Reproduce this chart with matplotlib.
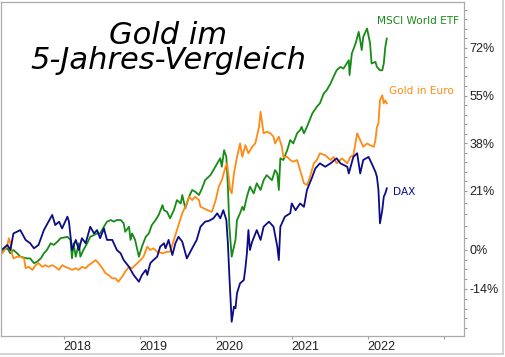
import matplotlib.pyplot as plt
from matplotlib.lines import Line2D

dax_t = [2017.17, 2017.21, 2017.26, 2017.30, 2017.34, 2017.43, 2017.50, 2017.56, 2017.61, 2017.67,
         2017.74, 2017.85, 2017.89, 2017.94, 2017.98, 2018.05, 2018.07, 2018.11, 2018.16, 2018.20,
         2018.24, 2018.29, 2018.35, 2018.40, 2018.44, 2018.48, 2018.53, 2018.57, 2018.64, 2018.70,
         2018.75, 2018.79, 2018.86, 2018.92, 2018.99, 2019.03, 2019.08, 2019.10, 2019.14, 2019.18,
         2019.23, 2019.27, 2019.32, 2019.34, 2019.38, 2019.43, 2019.47, 2019.51, 2019.56, 2019.62,
         2019.69, 2019.75, 2019.80, 2019.86, 2019.91, 2019.97, 2020.02, 2020.06, 2020.10, 2020.14,
         2020.16, 2020.18, 2020.21, 2020.24, 2020.26, 2020.28, 2020.32, 2020.37, 2020.39, 2020.41,
         2020.43, 2020.45, 2020.48, 2020.54, 2020.59, 2020.63, 2020.70, 2020.76, 2020.81, 2020.83,
         2020.85, 2020.91, 2020.98, 2021.00, 2021.05, 2021.11, 2021.16, 2021.20, 2021.27, 2021.31,
         2021.37, 2021.44, 2021.51, 2021.59, 2021.64, 2021.73, 2021.75, 2021.81, 2021.86, 2021.90,
         2021.94, 2022.01, 2022.05, 2022.10, 2022.12, 2022.14, 2022.16, 2022.19, 2022.21, 2022.23,
         2022.25]
dax = [-0.1, 0.5, 1.7, -0.1, 5.8, 7.0, 3.5, 2.3, 0.5, 1.7,
       7.0, 12.4, 8.8, 10.0, 7.6, 11.8, 10.0, -0.1, 3.5, -0.1,
       4.1, 2.3, 8.2, 5.8, 7.0, 4.1, 7.6, 3.5, 3.5, -0.1,
       -1.3, -3.7, -6.1, -9.0, -11.4, -9.0, -7.2, -9.0, -4.8, -3.7,
       -2.5, 1.1, 2.3, 0.5, 3.5, -1.9, 2.3, 4.6, 2.9, -3.1,
       0.5, 3.5, 8.2, 10.0, 10.3, 11.2, 13.0, 11.2, 14.1, 10.6,
       2.3, -9.6, -25.7, -20.3, -20.9, -15.5, -12.0, -10.8, -6.6, -1.3,
       7.0, -0.1, 2.9, 7.0, 3.5, 8.2, 10.0, 8.2, 1.1, -3.7,
       8.2, 11.8, 13.0, 16.5, 14.1, 16.5, 15.3, 21.3, 26.0, 29.0,
       30.8, 29.6, 30.8, 32.6, 30.8, 29.6, 27.2, 33.1, 34.4, 27.2,
       32.0, 33.1, 30.8, 27.8, 26.0, 21.3, 9.4, 14.1, 18.9, 20.1,
       21.9]

msci_t = [2017.17, 2017.21, 2017.26, 2017.30, 2017.34, 2017.39, 2017.43, 2017.52, 2017.56, 2017.61,
          2017.65, 2017.70, 2017.74, 2017.78, 2017.83, 2017.87, 2017.92, 2017.96, 2018.05, 2018.09,
          2018.11, 2018.13, 2018.16, 2018.20, 2018.22, 2018.26, 2018.31, 2018.35, 2018.44, 2018.48,
          2018.53, 2018.57, 2018.62, 2018.66, 2018.70, 2018.75, 2018.79, 2018.81, 2018.86, 2018.88,
          2018.90, 2018.94, 2018.99, 2019.03, 2019.08, 2019.12, 2019.16, 2019.21, 2019.25, 2019.30,
          2019.32, 2019.36, 2019.40, 2019.45, 2019.49, 2019.54, 2019.56, 2019.60, 2019.65, 2019.69,
          2019.73, 2019.78, 2019.82, 2019.86, 2019.93, 2019.97, 2020.02, 2020.06, 2020.08, 2020.11,
          2020.14, 2020.16, 2020.18, 2020.21, 2020.24, 2020.26, 2020.28, 2020.32, 2020.35, 2020.37,
          2020.41, 2020.45, 2020.50, 2020.54, 2020.59, 2020.63, 2020.67, 2020.74, 2020.78, 2020.81,
          2020.83, 2020.85, 2020.89, 2020.94, 2020.98, 2021.02, 2021.07, 2021.11, 2021.13, 2021.16,
          2021.20, 2021.27, 2021.33, 2021.37, 2021.42, 2021.46, 2021.51, 2021.55, 2021.59, 2021.64,
          2021.68, 2021.75, 2021.76, 2021.79, 2021.84, 2021.88, 2021.90, 2021.92, 2021.94, 2021.99,
          2022.03, 2022.05, 2022.10, 2022.12, 2022.16, 2022.19, 2022.21, 2022.23, 2022.25]
msci = [-1.3, -0.1, 0.5, -1.3, -0.1, -1.3, -2.5, -3.1, -3.1, -4.8,
        -4.3, -3.1, -1.3, -0.1, 2.3, 1.7, 2.9, 4.1, 4.6, 3.5,
        -3.1, 2.3, -2.5, 2.3, -2.5, -0.1, 2.3, 4.6, 5.8, 5.8,
        8.2, 10.0, 10.6, 10.0, 10.6, 10.6, 9.4, 6.4, 8.2, 3.5,
        5.8, 3.5, -2.5, 1.1, 4.6, 5.8, 8.8, 10.6, 12.4, 15.9,
        14.1, 13.5, 11.2, 14.1, 17.7, 16.5, 19.5, 14.8, 18.9, 21.3,
        20.7, 19.5, 21.9, 24.8, 26.6, 28.4, 30.8, 32.6, 29.6, 35.5,
        33.1, 22.5, 8.2, -2.5, 1.1, 3.5, 10.6, 13.0, 15.3, 14.1,
        18.9, 22.5, 20.1, 23.7, 21.3, 24.8, 26.6, 24.8, 28.4, 27.2,
        21.3, 32.6, 32.0, 35.5, 39.1, 37.9, 41.5, 42.7, 43.8, 41.5,
        43.8, 48.6, 51.0, 52.2, 55.7, 56.9, 59.3, 61.7, 64.0, 65.2,
        64.6, 67.6, 62.3, 70.0, 73.6, 77.7, 74.7, 71.2, 75.9, 78.9,
        73.6, 66.4, 67.0, 65.2, 64.0, 64.0, 66.4, 72.3, 75.3]

gold_t = [2017.17, 2017.21, 2017.26, 2017.28, 2017.30, 2017.32, 2017.34, 2017.39, 2017.43, 2017.48,
          2017.50, 2017.54, 2017.59, 2017.63, 2017.67, 2017.72, 2017.76, 2017.80, 2017.85, 2017.89,
          2017.94, 2017.98, 2018.02, 2018.07, 2018.11, 2018.16, 2018.20, 2018.24, 2018.29, 2018.33,
          2018.37, 2018.42, 2018.46, 2018.51, 2018.55, 2018.59, 2018.64, 2018.68, 2018.72, 2018.77,
          2018.81, 2018.86, 2018.90, 2018.92, 2018.97, 2019.01, 2019.05, 2019.10, 2019.14, 2019.18,
          2019.23, 2019.30, 2019.36, 2019.40, 2019.45, 2019.49, 2019.56, 2019.60, 2019.65, 2019.69,
          2019.73, 2019.78, 2019.80, 2019.84, 2019.89, 2019.95, 2020.00, 2020.04, 2020.08, 2020.13,
          2020.15, 2020.17, 2020.19, 2020.21, 2020.24, 2020.28, 2020.32, 2020.35, 2020.39, 2020.43,
          2020.48, 2020.52, 2020.57, 2020.59, 2020.63, 2020.67, 2020.72, 2020.76, 2020.78, 2020.83,
          2020.87, 2020.89, 2020.94, 2020.98, 2021.02, 2021.07, 2021.11, 2021.16, 2021.20, 2021.24,
          2021.29, 2021.33, 2021.37, 2021.44, 2021.51, 2021.55, 2021.59, 2021.66, 2021.73, 2021.77,
          2021.81, 2021.86, 2021.90, 2021.94, 2021.99, 2022.03, 2022.08, 2022.10, 2022.12, 2022.14,
          2022.16, 2022.19, 2022.21, 2022.23, 2022.25]
gold = [-1.9, -0.7, 1.7, 4.1, 2.3, -1.3, -3.1, -2.5, -2.5, -3.1,
        -6.6, -6.1, -7.2, -5.5, -4.8, -6.1, -5.5, -6.1, -5.5, -6.1,
        -7.2, -5.5, -6.1, -6.6, -7.2, -6.6, -7.2, -6.1, -6.6, -5.5,
        -4.8, -3.7, -4.8, -6.6, -8.4, -9.0, -10.2, -10.2, -11.4, -9.6,
        -7.8, -6.1, -6.6, -6.1, -4.8, -3.7, -2.5, 1.1, -0.1, 0.5,
        -0.7, -1.3, -0.7, -0.7, 3.5, 7.0, 13.0, 15.3, 18.9, 17.7,
        18.9, 17.7, 15.3, 14.8, 14.1, 13.5, 17.7, 22.5, 24.8, 29.6,
        30.8, 26.0, 21.3, 20.1, 27.2, 33.1, 37.9, 33.1, 37.3, 34.4,
        36.7, 37.9, 43.8, 49.2, 41.5, 42.1, 41.5, 40.3, 37.9, 40.3,
        36.7, 33.1, 33.1, 32.0, 31.4, 32.0, 28.4, 23.7, 23.1, 26.0,
        30.8, 32.0, 34.4, 33.7, 32.0, 33.1, 30.8, 32.6, 30.8, 33.1,
        33.7, 41.5, 39.1, 36.7, 37.9, 37.3, 36.7, 39.1, 43.8, 45.0,
        53.3, 55.1, 52.2, 53.3, 52.2]

y_ticks = [72, 55, 38, 21, 0, -14]
y_labels = ['72%', '55%', '38%', '21%', '0%', '-14%']
x_years = [2018, 2019, 2020, 2021, 2022, 2023]
x_labels = ['2018', '2019', '2020', '2021', '2022', '']

c_msci = '#168c16'
c_gold = '#ff8a14'
c_dax = '#0c0c86'

fig = plt.figure(figsize=(5.06, 3.57), dpi=100)
ax = fig.add_axes([0.001, 0.059, 0.916, 0.935])

ax.plot(msci_t, msci, color=c_msci, lw=1.3)
ax.plot(gold_t, gold, color=c_gold, lw=1.3)
ax.plot(dax_t, dax, color=c_dax, lw=1.3)

ax.set_xlim(2017.17, 2023.265)
ax.set_ylim(-30.75, 88.3)

# Achsen: Werte rechts, Jahre links ausgerichtet
ax.yaxis.tick_right()
ax.set_yticks(y_ticks)
ax.set_yticklabels(y_labels)
minor = []
for a, b in zip(y_ticks[:-1], y_ticks[1:]):
    n = 4 if a == 0 else 5
    minor += [a + (b - a) * k / n for k in range(1, n)]
minor += [72 + 3.4 * k for k in range(1, 5)]
minor += [-14 - 3.5 * k for k in range(1, 5)]
ax.set_yticks(minor, minor=True)
ax.set_xticks(x_years)
ax.set_xticklabels(x_labels, ha='left')
ax.tick_params(axis='both', which='both', direction='out', length=2.5, width=0.8,
               color='#999999', labelsize=9, pad=1.5, labelcolor='#222222')
for lab in ax.get_xticklabels() + ax.get_yticklabels():
    lab.set_family('Liberation Sans')
for s in ax.spines.values():
    s.set_color('#aaaaaa')
    s.set_linewidth(0.9)

ax.text(2022.12, 81.5, 'MSCI World ETF', color=c_msci, fontsize=7.6, va='center')
ax.text(2022.28, 56.6, 'Gold in Euro', color=c_gold, fontsize=7.6, va='center')
ax.text(2022.33, 20.5, 'DAX', color=c_dax, fontsize=7.6, va='center')

# Titel (Handschrift im Original, hier Kursive), zwei Zeilen in einem Text
ax.text(0.362, 0.862, 'Gold im\n5-Jahres-Vergleich', transform=ax.transAxes,
        ha='center', va='center', multialignment='center', linespacing=0.82,
        family='DejaVu Sans', style='italic', fontsize=22, color='black')

# hellgrauer Rahmen um das Bild
fig.add_artist(Line2D([503 / 506, 503 / 506], [3 / 357, 1], color='#cccccc', lw=1.2))
fig.add_artist(Line2D([0, 503 / 506], [3 / 357, 3 / 357], color='#cccccc', lw=1.2))

fig.savefig('out.png', dpi=100)
